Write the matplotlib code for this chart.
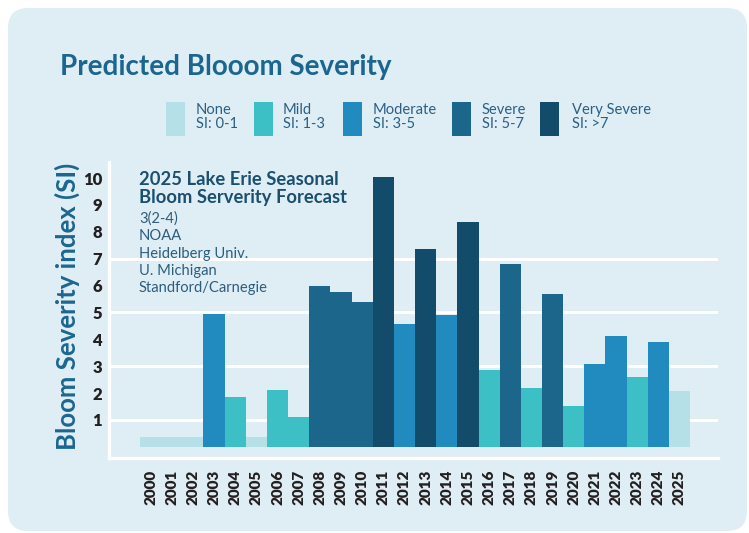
import matplotlib
matplotlib.use("Agg")
import matplotlib.pyplot as plt
from matplotlib.patches import FancyBboxPatch, Rectangle
from matplotlib.transforms import IdentityTransform

# ---------------- data ----------------
years = [str(y) for y in range(2000, 2026)]
severity_index = [0.35, 0.35, 0.35, 4.95, 1.87, 0.35, 2.10, 1.10, 6.00, 5.77,
                  5.40, 10.05, 4.57, 7.35, 4.90, 8.35, 2.85, 6.82, 2.17, 5.70,
                  1.50, 3.07, 4.12, 2.58, 3.90, 2.06]
categories = ["None", "None", "None", "Moderate", "Mild", "None", "Mild", "Mild",
              "Severe", "Severe", "Severe", "Very Severe", "Moderate", "Very Severe",
              "Moderate", "Very Severe", "Mild", "Severe", "Mild", "Severe", "Mild",
              "Moderate", "Moderate", "Mild", "Moderate", "None"]
legend_names = ["None", "Mild", "Moderate", "Severe", "Very Severe"]
legend_ranges = ["SI: 0-1", "SI: 1-3", "SI: 3-5", "SI: 5-7", "SI: >7"]
y_ticks = [1, 2, 3, 4, 5, 6, 7, 8, 9, 10]
grid_values = [1, 3, 5, 7]
title = "Predicted Blooom Severity"
y_label = "Bloom Severity index (SI)"
forecast_header = ["2025 Lake Erie Seasonal", "Bloom Serverity Forecast"]
forecast_lines = ["3(2-4)", "NOAA", "Heidelberg Univ.", "U. Michigan", "Standford/Carnegie"]

# ---------------- style ----------------
palette = {"None": "#b5e0e7", "Mild": "#3dbfc6", "Moderate": "#218bbf",
           "Severe": "#1c668c", "Very Severe": "#134c6b"}
panel_color = "#dfeef5"
title_color = "#1b6690"
text_dark = "#231f20"
plt.rcParams['font.family'] = ['Lato', 'DejaVu Sans']

W, H = 749, 533
fig = plt.figure(figsize=(W / 100, H / 100), dpi=100)
fig.patch.set_facecolor("white")

def fx(px):
    return px / W

def fy(py):
    return 1 - py / H

# rounded panel
panel = FancyBboxPatch((8, H - 531), 739, 523,
                       boxstyle="round,pad=0,rounding_size=20",
                       facecolor=panel_color, edgecolor="none",
                       transform=IdentityTransform(), zorder=0)
fig.add_artist(panel)

# axes
ax = fig.add_axes([fx(109), fy(457.5), fx(718) - fx(109), fy(162) - fy(457.5)])
ax.set_facecolor("none")
x = list(range(len(years)))
ax.bar(x, severity_index, width=1.0, color=[palette[c] for c in categories],
       linewidth=0, zorder=3)
for v in grid_values:
    ax.axhline(v, color="white", lw=2.2, zorder=1)
ax.set_xlim(-1.966, 26.82)
ax.set_ylim(-0.4, 10.6)
for s in ["top", "right"]:
    ax.spines[s].set_visible(False)
for s in ["left", "bottom"]:
    ax.spines[s].set_color("white")
    ax.spines[s].set_linewidth(2.4)
ax.set_yticks(y_ticks)
ax.set_yticklabels([str(t) for t in y_ticks], fontweight="heavy", fontsize=12,
                   color=text_dark)
ax.set_xticks(x)
ax.set_xticklabels(years, rotation=90, fontweight="heavy", fontsize=11,
                   color=text_dark)
ax.tick_params(axis="y", length=0, pad=5)
ax.tick_params(axis="x", length=0, pad=9)

# title and y label
fig.text(fx(60), fy(75), title, fontsize=20, fontweight="bold",
         color=title_color, va="baseline", ha="left")
fig.text(fx(67), fy(306), y_label, rotation=90, fontsize=18.5, fontweight="bold",
         color=title_color, ha="center", va="center")

# forecast annotation
for i, line in enumerate(forecast_header):
    fig.text(fx(139), fy(185 + 18.5 * i), line, fontsize=13.2, fontweight="bold",
             color="#1a4f6e", va="baseline", ha="left")
for i, line in enumerate(forecast_lines):
    fig.text(fx(139), fy(223 + 17.3 * i), line, fontsize=10.6,
             color="#2c5d7c", va="baseline", ha="left")

# legend
swatch_x = [166, 254, 343, 452, 540]
text_x = [196, 283, 373, 482, 572]
for i, (name, rng) in enumerate(zip(legend_names, legend_ranges)):
    fig.add_artist(Rectangle((fx(swatch_x[i]), fy(136)), 19 / W, 34 / H,
                             transform=fig.transFigure, facecolor=palette[name],
                             edgecolor="none"))
    fig.text(fx(text_x[i]), fy(114), name, fontsize=10.6, color="#2b5f84",
             va="baseline", ha="left")
    fig.text(fx(text_x[i]), fy(128), rng, fontsize=10.6, color="#2b5f84",
             va="baseline", ha="left")

fig.savefig("out.png", dpi=100)
